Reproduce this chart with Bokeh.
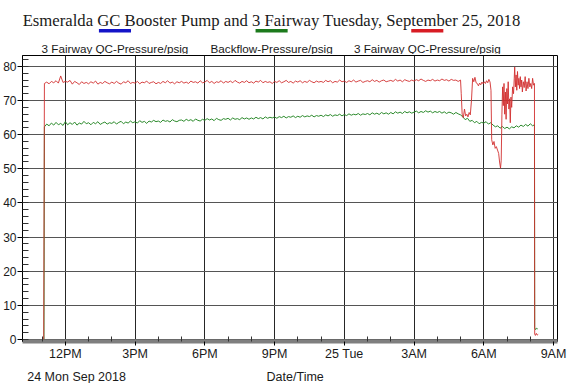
from bokeh.plotting import figure
from bokeh.layouts import column
from bokeh.models import Range1d, FixedTicker, SingleIntervalTicker
from bokeh.core.properties import value
from bokeh.embed import file_html
from bokeh.resources import INLINE

# ---------------- data ----------------
TITLE = "Esmeralda GC Booster Pump and 3 Fairway Tuesday, September 25, 2018"
SERIES = ["3 Fairway QC-Pressure/psig", "Backflow-Pressure/psig", "3 Fairway QC-Pressure/psig"]
SERIES_COLORS = ["#1414c8", "#1c7a1c", "#d81c24"]
X_TITLE = "Date/Time"
DATE_NOTE = "24 Mon Sep 2018"

# hours since 24 Sep 00:00
TICK_HOURS = [12, 15, 18, 21, 24, 27, 30, 33]
TICK_LABELS = ["12PM", "3PM", "6PM", "9PM", "25 Tue", "3AM", "6AM", "9AM"]
MINOR_HOURS = [11, 13, 14, 16, 17, 19, 20, 22, 23, 25, 26, 28, 29, 31, 32]

STEADY_START = 11.1   # first regular sample (h)
STEADY_STEP = 0.1     # sample spacing (h)

red_head = [(11.07, 0.0)]
green_head = [(11.08, 0.0)]

red_steady = [
    75.0, 75.4, 74.9, 75.6, 75.2, 75.8, 75.1, 77.2, 75.3,
    75.6, 75.4, 75.9, 74.8, 75.6, 75.2, 74.7, 75.5, 75.0, 75.3,
    74.9, 75.5, 75.1, 75.7, 74.8, 75.3, 75.0, 75.6, 75.2, 74.9,
    75.4, 75.0, 75.6, 75.1, 74.8, 75.5, 75.2, 75.8, 75.0, 75.3,
    75.1, 75.6, 74.9, 75.4, 75.2, 75.7, 75.0, 75.3, 75.5, 74.9,
    75.3, 75.0, 75.6, 75.2, 75.8, 75.1, 75.4, 74.9, 75.5, 75.2,
    75.6, 75.1, 75.4, 75.0, 75.7, 75.3, 75.5, 75.1, 75.8, 75.2,
    75.4, 75.9, 75.2, 75.6, 75.0, 75.5, 75.3, 75.8, 75.1, 75.6,
    75.3, 75.7, 75.2, 75.9, 75.4, 75.1, 75.6, 75.3, 75.8, 75.2,
    75.5, 75.1, 75.7, 75.4, 75.9, 75.2, 75.6, 75.3, 75.5, 75.0,
    75.6, 75.3, 75.8, 75.2, 75.5, 75.9, 75.3, 75.6, 75.1, 75.7,
    75.4, 75.8, 75.2, 75.6, 75.3, 75.9, 75.5, 75.2, 75.7, 75.4,
    75.6, 75.3, 75.9, 75.5, 75.8, 75.2, 75.6, 75.4, 76.0, 75.5,
    75.7, 75.3, 75.8, 75.5, 76.0, 75.4, 75.7, 75.9, 75.3, 75.6,
    75.8, 75.5, 76.1, 75.6, 75.9, 75.4, 75.8, 76.0, 75.5, 75.7,
    75.9, 75.6, 76.2, 75.7, 76.0, 75.5, 76.1, 75.8, 75.6, 76.0,
    75.7, 76.1, 75.8, 76.3, 75.9, 75.6, 76.0, 75.8, 76.2, 75.7,
    76.0, 75.8, 76.3, 75.9, 76.1, 75.7, 76.2, 75.9, 76.0, 75.6,
]

green_steady = [
    62.3, 63.1, 62.6, 63.4, 62.8, 63.6, 62.9, 63.3, 62.7,
    63.8, 62.9, 63.5, 63.0, 63.7, 62.8, 63.4, 63.1, 63.9, 63.2,
    63.5, 62.9, 63.6, 63.2, 63.8, 63.0, 63.4, 63.7, 63.1, 63.5,
    63.3, 63.8, 63.1, 63.6, 63.9, 63.2, 63.7, 63.4, 64.0, 63.5,
    63.8, 63.4, 64.1, 63.6, 63.9, 63.3, 64.0, 63.7, 64.2, 63.8,
    64.0, 63.6, 64.3, 63.9, 64.1, 63.7, 64.4, 64.0, 63.8, 64.2,
    64.3, 63.9, 64.5, 64.1, 64.4, 63.9, 64.6, 64.2, 64.0, 64.5,
    64.2, 64.7, 64.3, 64.6, 64.1, 64.8, 64.4, 64.2, 64.7, 64.5,
    64.8, 64.3, 64.9, 64.5, 64.7, 64.4, 65.0, 64.6, 64.9, 64.5,
    64.9, 64.6, 65.1, 64.7, 65.0, 64.6, 65.2, 64.8, 65.1, 64.9,
    65.2, 64.8, 65.3, 65.0, 65.4, 64.9, 65.3, 65.1, 65.5, 65.0,
    65.4, 65.1, 65.6, 65.2, 65.5, 65.3, 65.7, 65.2, 65.6, 65.4,
    65.7, 65.3, 65.8, 65.5, 65.9, 65.4, 65.8, 65.6, 66.0, 65.5,
    65.9, 65.6, 66.1, 65.7, 66.0, 65.8, 66.2, 65.7, 66.1, 65.9,
    66.2, 65.8, 66.4, 66.0, 66.3, 65.9, 66.5, 66.1, 66.4, 66.0,
    66.5, 66.1, 66.7, 66.3, 66.6, 66.2, 66.8, 66.4, 66.7, 66.3,
    66.6, 66.9, 66.4, 66.8, 66.5, 67.0, 66.6, 66.9, 66.4, 66.8,
    66.5, 66.8, 66.3, 66.7, 66.2, 66.6, 66.4, 66.0, 66.5, 66.1,
]

red_tail = [
    (29.00, 76.0), (29.03, 72.0), (29.07, 66.0), (29.12, 65.0), (29.17, 67.5),
    (29.22, 65.5), (29.27, 66.0), (29.32, 65.2), (29.37, 66.5), (29.42, 65.8),
    (29.47, 70.0), (29.52, 76.5), (29.57, 75.5), (29.62, 76.8), (29.67, 75.2),
    (29.72, 75.0), (29.77, 74.3), (29.82, 75.1), (29.87, 74.6), (29.92, 75.4),
    (29.97, 74.9), (30.02, 75.5), (30.07, 75.0), (30.12, 75.8), (30.17, 75.2),
    (30.22, 76.2), (30.27, 75.4), (30.31, 73.0), (30.34, 58.5), (30.39, 57.0),
    (30.44, 58.0), (30.49, 56.0), (30.54, 56.5), (30.59, 55.5), (30.64, 54.5),
    (30.68, 52.0), (30.72, 50.2), (30.75, 52.5), (30.78, 66.0), (30.81, 74.0),
    (30.84, 68.5), (30.87, 75.0), (30.90, 66.0), (30.93, 72.5), (30.96, 64.5),
    (30.99, 73.5), (31.02, 69.0), (31.05, 75.5), (31.08, 67.5), (31.11, 70.5),
    (31.14, 63.5), (31.17, 71.0), (31.20, 68.0), (31.24, 74.0), (31.28, 72.0),
    (31.31, 76.5), (31.33, 79.8), (31.36, 74.0), (31.39, 77.5), (31.42, 73.0),
    (31.45, 78.5), (31.48, 74.5), (31.51, 76.5), (31.54, 73.5), (31.57, 77.0),
    (31.60, 74.0), (31.63, 76.0), (31.66, 72.5), (31.70, 75.5), (31.74, 73.8),
    (31.78, 77.0), (31.82, 72.8), (31.86, 75.5), (31.90, 73.5), (31.94, 76.5),
    (31.98, 74.0), (32.02, 75.0), (32.06, 73.5), (32.10, 76.5), (32.14, 74.5),
    (32.18, 75.0), (32.19, 1.6), (32.22, 1.2), (32.26, 1.8), (32.30, 1.3), (32.34, 1.5),
]

green_tail = [
    (29.0, 65.8), (29.1, 65.2), (29.2, 64.4), (29.3, 64.8), (29.4, 63.9),
    (29.5, 64.2), (29.6, 63.5), (29.7, 63.9), (29.8, 63.2), (29.9, 63.6),
    (30.0, 63.4), (30.1, 63.8), (30.2, 63.1), (30.3, 63.5), (30.4, 62.8),
    (30.5, 62.3), (30.6, 62.6), (30.7, 61.9), (30.8, 62.4), (30.9, 61.8),
    (31.0, 62.2), (31.1, 61.7), (31.2, 62.3), (31.3, 62.0), (31.4, 62.6),
    (31.5, 62.2), (31.6, 62.8), (31.7, 62.4), (31.8, 63.0), (31.9, 62.5),
    (32.0, 63.2), (32.1, 62.6), (32.18, 62.9), (32.19, 3.4), (32.23, 2.9),
    (32.27, 3.3), (32.32, 3.1),
]


def assemble(head, steady, tail):
    t = [q[0] for q in head]
    v = [q[1] for q in head]
    t += [round(STEADY_START + i * STEADY_STEP, 3) for i in range(len(steady))]
    v += list(steady)
    t += [q[0] for q in tail]
    v += [q[1] for q in tail]
    return t, v


red_t, red_v = assemble(red_head, red_steady, red_tail)
green_t, green_v = assemble(green_head, green_steady, green_tail)

# ---------------- layout ----------------
W = 567
HEADER_H, MAIN_H, FOOTER_H = 54, 309, 20      # total 383
SANS = "Liberation Sans"
SERIF = "Liberation Serif"
INK = "#1a1a1a"


def strip(h):
    f = figure(width=W, height=h, x_range=Range1d(0, W), y_range=Range1d(h, 0),
               output_backend="svg", toolbar_location=None, title_location=None,
               x_axis_location=None, y_axis_location=None,
               min_border=0, outline_line_color=None)
    f.grid.visible = False
    return f


# header: title + legend (colour bar above each label)
header = strip(HEADER_H)
header.text(x=[264], y=[20], text=[TITLE], text_font=value(SERIF), text_font_size="16.7px",
            text_align="center", text_baseline="alphabetic", text_color=INK)
LEG_CX = [98, 264, 429]
header.quad(left=[c - 17 for c in LEG_CX], right=[c + 17 for c in LEG_CX],
            top=[28.5] * 3, bottom=[32] * 3, fill_color=SERIES_COLORS, line_color=None)
header.text(x=LEG_CX, y=[47.5] * 3, text=SERIES, text_font=value(SANS), text_font_size="11.7px",
            text_align="center", text_baseline="alphabetic", text_color=INK)

# main plot
p = figure(width=W, height=MAIN_H, x_range=Range1d(10.157, 33.171), y_range=Range1d(-0.58, 83.19),
           output_backend="svg", toolbar_location=None, title_location=None,
           min_border_left=20, min_border_right=10, min_border_top=1, min_border_bottom=19,
           outline_line_color="black", outline_line_width=1, background_fill_color="white")

p.line(green_t, green_v, line_color="#2c8a2c", line_width=1)
p.line(red_t, red_v, line_color="#d23030", line_width=1, line_alpha=0.9)

p.xaxis.ticker = FixedTicker(ticks=TICK_HOURS, minor_ticks=MINOR_HOURS)
p.xaxis.major_label_overrides = {h: lab for h, lab in zip(TICK_HOURS, TICK_LABELS)}
p.xaxis.axis_line_color = "#7f7f7f"
p.xaxis.axis_line_width = 4
p.xaxis.major_tick_line_color = "black"
p.xaxis.major_tick_out = 4
p.xaxis.major_tick_in = 0
p.xaxis.minor_tick_line_color = "#333333"
p.xaxis.minor_tick_in = 5
p.xaxis.minor_tick_out = 0
p.xaxis.major_label_standoff = 1
p.xaxis.major_label_text_font = SANS
p.xaxis.major_label_text_font_size = "12.5px"
p.xaxis.major_label_text_color = INK

p.yaxis.ticker = SingleIntervalTicker(interval=10, num_minor_ticks=5)
p.yaxis.axis_line_color = "black"
p.yaxis.major_tick_line_color = "black"
p.yaxis.major_tick_out = 5
p.yaxis.major_tick_in = 0
p.yaxis.minor_tick_line_color = "#333333"
p.yaxis.minor_tick_in = 6
p.yaxis.minor_tick_out = 0
p.yaxis.major_label_standoff = 1
p.yaxis.major_label_text_font = SANS
p.yaxis.major_label_text_font_size = "12px"
p.yaxis.major_label_text_color = INK

p.xgrid.grid_line_color = "#262626"
p.ygrid.grid_line_color = "#555555"

# footer: axis caption and start date
footer = strip(FOOTER_H)
footer.text(x=[289], y=[13], text=[X_TITLE], text_font=value(SANS), text_font_size="12.5px",
            text_align="center", text_baseline="alphabetic", text_color=INK)
footer.text(x=[5], y=[13], text=[DATE_NOTE], text_font=value(SANS), text_font_size="12.5px",
            text_align="left", text_baseline="alphabetic", text_color=INK)

layout = column(header, p, footer, spacing=0)
open("out.html", "w").write(file_html(layout, INLINE))
